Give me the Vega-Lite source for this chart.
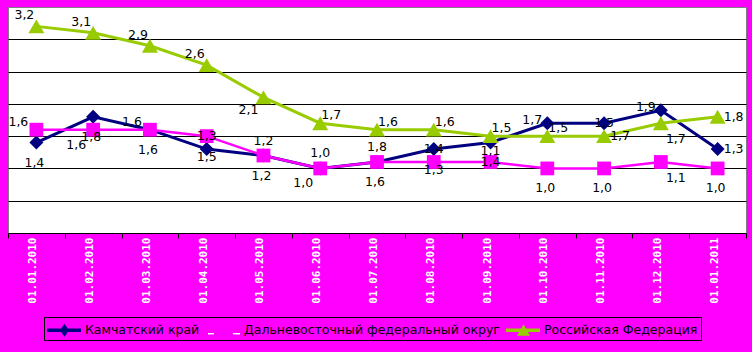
{
  "$schema": "https://vega.github.io/schema/vega-lite/v6.json",
  "autosize": {"type": "none"},
  "width": 738,
  "height": 226,
  "padding": {"left": 8, "top": 7, "right": 6, "bottom": 119},
  "background": "#FF00FF",
  "config": {
    "view": {"fill": "white", "stroke": "#808080", "strokeWidth": 1},
    "text": {"font": "DejaVu Sans", "fontSize": 12.5, "color": "black", "align": "center", "baseline": "middle"},
    "legend": {"labelFont": "DejaVu Sans", "labelFontSize": 12.5, "labelColor": "black"}
  },
  "datasets": {
    "d": [
      {"date": "01.01.2010", "series": "Камчатский край", "value": 1.4, "label": "1,4"},
      {"date": "01.02.2010", "series": "Камчатский край", "value": 1.8, "label": "1,8"},
      {"date": "01.03.2010", "series": "Камчатский край", "value": 1.6, "label": "1,6"},
      {"date": "01.04.2010", "series": "Камчатский край", "value": 1.3, "label": "1,5"},
      {"date": "01.05.2010", "series": "Камчатский край", "value": 1.2, "label": "1,2"},
      {"date": "01.06.2010", "series": "Камчатский край", "value": 1.0, "label": "1,0"},
      {"date": "01.07.2010", "series": "Камчатский край", "value": 1.1, "label": "1,6"},
      {"date": "01.08.2010", "series": "Камчатский край", "value": 1.3, "label": "1,4"},
      {"date": "01.09.2010", "series": "Камчатский край", "value": 1.4, "label": "1,1"},
      {"date": "01.10.2010", "series": "Камчатский край", "value": 1.7, "label": "1,7"},
      {"date": "01.11.2010", "series": "Камчатский край", "value": 1.7, "label": "1,5"},
      {"date": "01.12.2010", "series": "Камчатский край", "value": 1.9, "label": "1,9"},
      {"date": "01.01.2011", "series": "Камчатский край", "value": 1.3, "label": "1,3"},
      {"date": "01.01.2010", "series": "Дальневосточный федеральный округ", "value": 1.6, "label": "1,6"},
      {"date": "01.02.2010", "series": "Дальневосточный федеральный округ", "value": 1.6, "label": "1,6"},
      {"date": "01.03.2010", "series": "Дальневосточный федеральный округ", "value": 1.6, "label": "1,6"},
      {"date": "01.04.2010", "series": "Дальневосточный федеральный округ", "value": 1.5, "label": "1,3"},
      {"date": "01.05.2010", "series": "Дальневосточный федеральный округ", "value": 1.2, "label": "1,2"},
      {"date": "01.06.2010", "series": "Дальневосточный федеральный округ", "value": 1.0, "label": "1,0"},
      {"date": "01.07.2010", "series": "Дальневосточный федеральный округ", "value": 1.1, "label": "1,8"},
      {"date": "01.08.2010", "series": "Дальневосточный федеральный округ", "value": 1.1, "label": "1,3"},
      {"date": "01.09.2010", "series": "Дальневосточный федеральный округ", "value": 1.1, "label": "1,4"},
      {"date": "01.10.2010", "series": "Дальневосточный федеральный округ", "value": 1.0, "label": "1,0"},
      {"date": "01.11.2010", "series": "Дальневосточный федеральный округ", "value": 1.0, "label": "1,0"},
      {"date": "01.12.2010", "series": "Дальневосточный федеральный округ", "value": 1.1, "label": "1,1"},
      {"date": "01.01.2011", "series": "Дальневосточный федеральный округ", "value": 1.0, "label": "1,0"},
      {"date": "01.01.2010", "series": "Российская Федерация", "value": 3.2, "label": "3,2"},
      {"date": "01.02.2010", "series": "Российская Федерация", "value": 3.1, "label": "3,1"},
      {"date": "01.03.2010", "series": "Российская Федерация", "value": 2.9, "label": "2,9"},
      {"date": "01.04.2010", "series": "Российская Федерация", "value": 2.6, "label": "2,6"},
      {"date": "01.05.2010", "series": "Российская Федерация", "value": 2.1, "label": "2,1"},
      {"date": "01.06.2010", "series": "Российская Федерация", "value": 1.7, "label": "1,7"},
      {"date": "01.07.2010", "series": "Российская Федерация", "value": 1.6, "label": "1,6"},
      {"date": "01.08.2010", "series": "Российская Федерация", "value": 1.6, "label": "1,6"},
      {"date": "01.09.2010", "series": "Российская Федерация", "value": 1.5, "label": "1,5"},
      {"date": "01.10.2010", "series": "Российская Федерация", "value": 1.5, "label": "1,5"},
      {"date": "01.11.2010", "series": "Российская Федерация", "value": 1.5, "label": "1,7"},
      {"date": "01.12.2010", "series": "Российская Федерация", "value": 1.7, "label": "1,7"},
      {"date": "01.01.2011", "series": "Российская Федерация", "value": 1.8, "label": "1,8"}
    ]
  },
  "data": {"name": "d"},
  "encoding": {
    "x": {
      "field": "date", "type": "nominal",
      "scale": {"type": "band", "paddingInner": 0, "paddingOuter": 0,
        "domain": ["01.01.2010","01.02.2010","01.03.2010","01.04.2010","01.05.2010","01.06.2010","01.07.2010","01.08.2010","01.09.2010","01.10.2010","01.11.2010","01.12.2010","01.01.2011"]},
      "axis": {"title": null, "labelAngle": -90, "labelColor": "white", "labelFont": "DejaVu Sans Mono", "labelFontWeight": "bold", "labelFontSize": 11, "labelOffset": -3.5, "labelPadding": -1, "labelOverlap": false, "tickBand": "extent", "tickColor": "black", "tickSize": 5, "tickWidth": 1, "domainColor": "black", "domainWidth": 1, "grid": false}
    },
    "y": {
      "field": "value", "type": "quantitative",
      "scale": {"domain": [0, 3.5], "nice": false},
      "axis": {"title": null, "labels": false, "ticks": false, "domain": false, "grid": true, "gridColor": "black", "gridWidth": 1, "gridOpacity": 1, "values": [0.5, 1, 1.5, 2, 2.5, 3]}
    }
  },
  "layer": [
    {"transform": [{"filter": "datum.series === 'Камчатский край'"}], "mark": {"type": "line", "color": "#000080", "strokeWidth": 3}},
    {"transform": [{"filter": "datum.series === 'Камчатский край'"}], "mark": {"type": "point", "shape": "diamond", "size": 196, "filled": true, "opacity": 1, "color": "#000080"}},
    {"transform": [{"filter": "datum.series === 'Дальневосточный федеральный округ'"}], "mark": {"type": "line", "color": "#FF00FF", "strokeWidth": 2.5}},
    {"transform": [{"filter": "datum.series === 'Дальневосточный федеральный округ'"}], "mark": {"type": "point", "shape": "square", "size": 190, "filled": true, "opacity": 1, "color": "#FF00FF"}},
    {"transform": [{"filter": "datum.series === 'Российская Федерация'"}], "mark": {"type": "line", "color": "#99CC00", "strokeWidth": 3}},
    {"transform": [{"filter": "datum.series === 'Российская Федерация'"}], "mark": {"type": "point", "shape": "triangle-up", "size": 256, "filled": true, "opacity": 1, "color": "#99CC00"}},
    {
      "transform": [{"filter": "false"}],
      "mark": {"type": "point", "filled": true, "opacity": 1},
      "encoding": {
        "color": {"field": "series", "type": "nominal",
          "scale": {"domain": ["Камчатский край", "Дальневосточный федеральный округ", "Российская Федерация"], "range": ["#000080", "#FFFFFF", "#99CC00"]},
          "legend": {"title": null, "orient": "none", "legendX": 36, "legendY": 310, "direction": "horizontal", "strokeColor": "black", "padding": 3, "symbolSize": 400, "symbolStrokeWidth": 0, "symbolOpacity": 1, "labelFont": "DejaVu Sans", "labelFontSize": 12.5, "labelColor": "black", "labelOffset": 18, "columnPadding": 6, "labelLimit": 0}},
        "shape": {"field": "series", "type": "nominal",
          "scale": {"domain": ["Камчатский край", "Дальневосточный федеральный округ", "Российская Федерация"],
            "range": ["M-1,-0.18H2.4V0.18H-1Z M0.75,-0.65L1.2,0L0.75,0.65L0.3,0Z", "M-0.8,0.28H-0.2V0.42H-0.8Z M1.7,0.28H2.4V0.42H1.7Z", "M-1,-0.18H2.4V0.18H-1Z M0.75,-0.6L1.4,0.55L0.1,0.55Z"]},
          "legend": {"title": null, "orient": "none", "legendX": 36, "legendY": 310, "direction": "horizontal", "strokeColor": "black", "padding": 3, "symbolSize": 400, "symbolStrokeWidth": 0, "symbolOpacity": 1, "labelFont": "DejaVu Sans", "labelFontSize": 12.5, "labelColor": "black", "labelOffset": 18, "columnPadding": 6, "labelLimit": 0}}
      }
    },
    {"transform": [{"filter": "datum.series === 'Российская Федерация' && indexof(['01.01.2010','01.02.2010','01.03.2010','01.04.2010'], datum.date) >= 0"}], "mark": {"type": "text", "dx": -12, "dy": -11}, "encoding": {"text": {"field": "label"}}},
    {"transform": [{"filter": "datum.series === 'Российская Федерация' && datum.date === '01.05.2010'"}], "mark": {"type": "text", "dx": -15, "dy": 13}, "encoding": {"text": {"field": "label"}}},
    {"transform": [{"filter": "datum.series === 'Российская Федерация' && indexof(['01.06.2010','01.07.2010','01.08.2010','01.09.2010','01.10.2010'], datum.date) >= 0"}], "mark": {"type": "text", "dx": 11, "dy": -8}, "encoding": {"text": {"field": "label"}}},
    {"transform": [{"filter": "(datum.series === 'Российская Федерация' && indexof(['01.11.2010','01.01.2011'], datum.date) >= 0) || (datum.series === 'Камчатский край' && datum.date === '01.01.2011')"}], "mark": {"type": "text", "dx": 16, "dy": 0}, "encoding": {"text": {"field": "label"}}},
    {"transform": [{"filter": "datum.series !== 'Камчатский край' && datum.date === '01.12.2010'"}], "mark": {"type": "text", "dx": 15, "dy": 16}, "encoding": {"text": {"field": "label"}}},
    {"transform": [{"filter": "datum.series === 'Дальневосточный федеральный округ' && indexof(['01.01.2010','01.03.2010'], datum.date) >= 0"}], "mark": {"type": "text", "dx": -18, "dy": -8}, "encoding": {"text": {"field": "label"}}},
    {"transform": [{"filter": "(datum.series === 'Дальневосточный федеральный округ' && datum.date === '01.02.2010') || (datum.series === 'Камчатский край' && datum.date === '01.06.2010')"}], "mark": {"type": "text", "dx": -17, "dy": 15}, "encoding": {"text": {"field": "label"}}},
    {"transform": [{"filter": "(datum.series === 'Камчатский край' && indexof(['01.01.2010','01.02.2010','01.03.2010','01.05.2010','01.07.2010'], datum.date) >= 0) || (datum.series === 'Дальневосточный федеральный округ' && indexof(['01.10.2010','01.11.2010','01.01.2011'], datum.date) >= 0)"}], "mark": {"type": "text", "dx": -2, "dy": 20}, "encoding": {"text": {"field": "label"}}},
    {"transform": [{"filter": "(datum.series === 'Дальневосточный федеральный округ' && indexof(['01.04.2010','01.09.2010'], datum.date) >= 0) || (datum.series === 'Камчатский край' && indexof(['01.08.2010','01.11.2010'], datum.date) >= 0)"}], "mark": {"type": "text", "dx": 0, "dy": 0}, "encoding": {"text": {"field": "label"}}},
    {"transform": [{"filter": "(datum.series === 'Камчатский край' && indexof(['01.04.2010','01.09.2010'], datum.date) >= 0) || (datum.series === 'Дальневосточный федеральный округ' && datum.date === '01.08.2010')"}], "mark": {"type": "text", "dx": 0, "dy": 8}, "encoding": {"text": {"field": "label"}}},
    {"transform": [{"filter": "datum.series === 'Дальневосточный федеральный округ' && indexof(['01.05.2010','01.06.2010','01.07.2010'], datum.date) >= 0"}], "mark": {"type": "text", "dx": 0, "dy": -15}, "encoding": {"text": {"field": "label"}}},
    {"transform": [{"filter": "datum.series === 'Камчатский край' && indexof(['01.10.2010','01.12.2010'], datum.date) >= 0"}], "mark": {"type": "text", "dx": -15, "dy": -3}, "encoding": {"text": {"field": "label"}}}
  ]
}
